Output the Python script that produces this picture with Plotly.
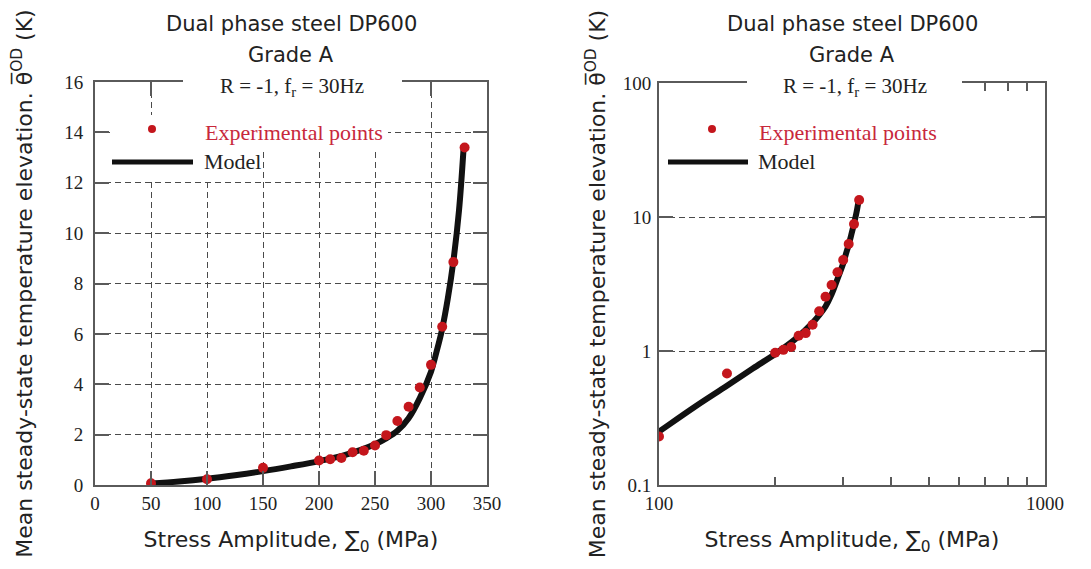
import plotly.graph_objects as go

# ---- data ----
stress_exp = [50, 100, 150, 200, 210, 220, 230, 240, 250, 260, 270, 280, 290, 300, 310, 320, 330]
temp_exp = [0.07, 0.23, 0.68, 0.97, 1.02, 1.07, 1.30, 1.36, 1.57, 1.98, 2.54, 3.11, 3.87, 4.77, 6.28, 8.85, 13.4]

stress_model = [50, 75, 100, 125, 150, 175, 200, 225, 250, 260, 270, 280, 290, 300, 305, 310, 315, 320, 325, 329]
temp_model = [0.06, 0.14, 0.25, 0.39, 0.55, 0.74, 0.95, 1.22, 1.62, 1.85, 2.15, 2.65, 3.45, 4.5, 5.3, 6.2, 7.4, 8.9, 10.9, 13.3]

lin_xticks = [0, 50, 100, 150, 200, 250, 300, 350]
lin_yticks = [0, 2, 4, 6, 8, 10, 12, 14, 16]
log_xticks = [100, 1000]
log_xlabels = ["100", "1000"]
log_xminor = [200, 300, 400, 500, 600, 700, 800, 900]
log_yticks = [0.1, 1, 10, 100]
log_ylabels = ["0.1", "1", "10", "100"]

title_lines = ["Dual phase steel DP600", "Grade A"]
cond_text = "R = -1, f<sub>r</sub> = 30Hz"
legend_names = ["Experimental points", "Model"]
x_title = "Stress Amplitude, ∑<sub>0</sub> (MPa)"
y_title = "Mean steady-state temperature elevation. θ\u0305<sup>OD</sup> (K)"

W, H = 1091, 569
RED = "#c4161c"
RED_TXT = "#c8283c"
AX = "#5a5a5a"
GRID = "#4a4a4a"
DASH = "6px,4px"
SERIF = "Liberation Serif"
SANS = "DejaVu Sans"

def px(x):
    return x / W

def py(y):
    return 1 - y / H

fig = go.Figure()

for xa, ya in (("x", "y"), ("x2", "y2")):
    fig.add_trace(go.Scatter(x=stress_model, y=temp_model, mode="lines",
                             line=dict(color="#111111", width=6, shape="spline"),
                             xaxis=xa, yaxis=ya, name=legend_names[1], showlegend=False))
    fig.add_trace(go.Scatter(x=stress_exp, y=temp_exp, mode="markers",
                             marker=dict(color=RED, size=10),
                             xaxis=xa, yaxis=ya, name=legend_names[0], showlegend=False))

common_axis = dict(showline=True, linecolor=AX, linewidth=2, mirror="ticks",
                   ticks="inside", tickcolor=AX, tickwidth=2, zeroline=False,
                   automargin=False,
                   tickfont=dict(family=SERIF, size=19, color="#222"))

xt_font = dict(family=SANS, size=22, color="#222")
yt_font = dict(family=SANS, size=22, color="#222")

fig.update_layout(
    width=W, height=H, margin=dict(l=0, r=0, t=0, b=0),
    paper_bgcolor="white", plot_bgcolor="white", showlegend=False,
    xaxis=dict(domain=[px(95), px(487)], range=[0, 350], tickvals=lin_xticks,
               showgrid=True, gridcolor=GRID, griddash=DASH, gridwidth=1.2,
               ticklen=14, anchor="y",
               title=dict(text=x_title, standoff=19, font=xt_font),
               **common_axis),
    yaxis=dict(domain=[py(485), py(82)], range=[0, 16], tickvals=lin_yticks,
               showgrid=True, gridcolor=GRID, griddash=DASH, gridwidth=1.2,
               ticklen=14, anchor="x", ticklabelstandoff=6,
               title=dict(text=y_title, standoff=26, font=yt_font),
               **common_axis),
    xaxis2=dict(domain=[px(659), px(1045)], type="log", range=[2, 3],
                tickvals=log_xticks, ticktext=log_xlabels, showgrid=False,
                ticklen=8, anchor="y2",
                minor=dict(tickvals=log_xminor, ticks="inside", ticklen=8,
                           tickwidth=2, tickcolor=AX, showgrid=False),
                title=dict(text=x_title, standoff=19, font=xt_font),
                **common_axis),
    yaxis2=dict(domain=[py(485), py(83)], type="log", range=[-1, 2],
                tickvals=log_yticks, ticktext=log_ylabels,
                showgrid=True, gridcolor=GRID, griddash=DASH, gridwidth=1.2,
                ticklen=14, anchor="x2", ticklabelstandoff=2,
                title=dict(text=y_title, standoff=11, font=yt_font),
                **common_axis),
)

annotations = []
shapes = []
panels = (
    dict(cx=291, gap=(183, 402), dot_x=152, leg_x=203, line=(112, 193)),
    dict(cx=852, gap=(747, 962), dot_x=712, leg_x=757, line=(668, 748)),
)
for i, p in enumerate(panels):
    cx = p["cx"]
    gap_l, gap_r = p["gap"]
    annotations.append(dict(x=px(cx), y=py(24), xref="paper", yref="paper", showarrow=False,
                            xanchor="center", yanchor="middle",
                            text=title_lines[0], font=dict(family=SANS, size=21, color="#222")))
    annotations.append(dict(x=px(cx), y=py(55), xref="paper", yref="paper", showarrow=False,
                            xanchor="center", yanchor="middle",
                            text=title_lines[1], font=dict(family=SANS, size=21, color="#222")))
    # white band breaking the top frame behind the test condition label
    shapes.append(dict(type="rect", xref="paper", yref="paper",
                       x0=px(gap_l), x1=px(gap_r), y0=py(95), y1=py(76),
                       fillcolor="white", line=dict(width=0), layer="above"))
    annotations.append(dict(x=px((gap_l + gap_r) / 2), y=py(87), xref="paper", yref="paper",
                            showarrow=False, xanchor="center", yanchor="middle", text=cond_text,
                            font=dict(family=SERIF, size=21, color="#222")))
    if i == 0:
        # white background of the legend/label area hiding the grid
        for (x0, x1, y0, y1) in ((183, 402, 76, 116), (110, 388, 115, 149), (110, 262, 148, 181)):
            shapes.append(dict(type="rect", xref="paper", yref="paper",
                               x0=px(x0), x1=px(x1), y0=py(y1), y1=py(y0),
                               fillcolor="white", line=dict(width=0), layer="above"))
    # manual legend
    dot_x = p["dot_x"]
    leg_x = p["leg_x"]
    line_l, line_r = p["line"]
    shapes.append(dict(type="circle", xref="paper", yref="paper",
                       x0=px(dot_x - 4), x1=px(dot_x + 4), y0=py(133), y1=py(125),
                       fillcolor=RED, line=dict(width=0), layer="above"))
    annotations.append(dict(x=px(leg_x), y=py(132), xref="paper", yref="paper", showarrow=False,
                            xanchor="left", yanchor="middle", text=legend_names[0],
                            font=dict(family=SERIF, size=22, color=RED_TXT)))
    shapes.append(dict(type="line", xref="paper", yref="paper",
                       x0=px(line_l), x1=px(line_r), y0=py(162), y1=py(162),
                       line=dict(color="#111", width=5), layer="above"))
    annotations.append(dict(x=px(leg_x - 1), y=py(162), xref="paper", yref="paper", showarrow=False,
                            xanchor="left", yanchor="middle", text=legend_names[1],
                            font=dict(family=SERIF, size=22, color="#222")))

fig.update_layout(annotations=annotations, shapes=shapes)

fig.write_html("out.html")
